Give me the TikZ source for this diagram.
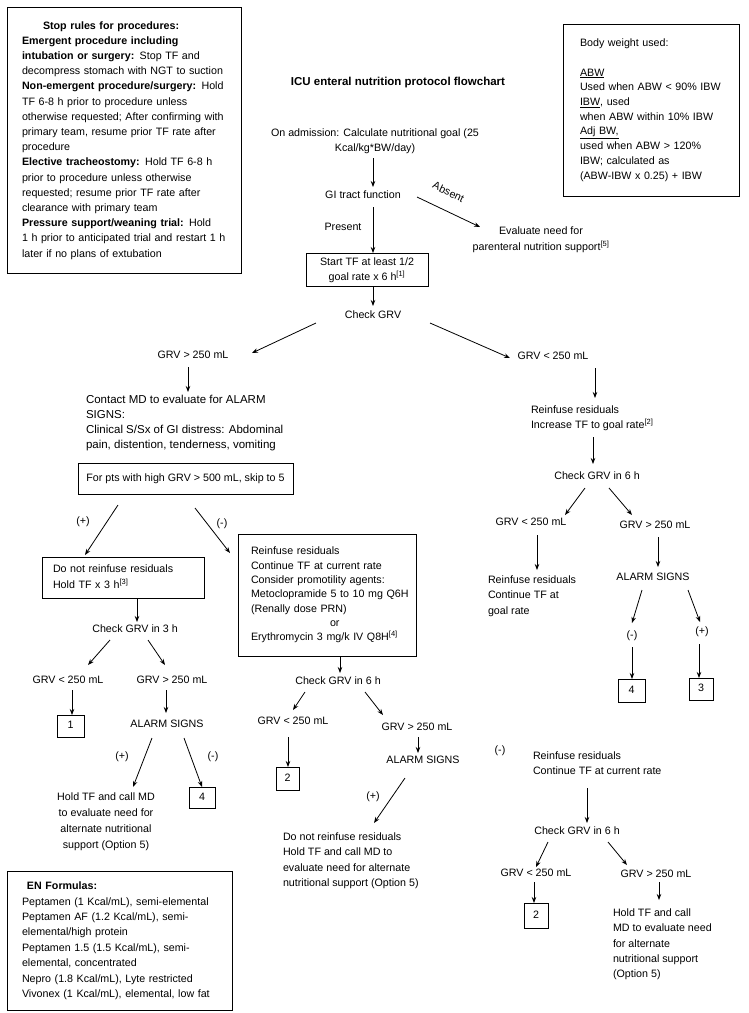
\documentclass[tikz,border=0pt]{standalone}
\usepackage{fontspec}
\setmainfont{Liberation Sans}
\usetikzlibrary{calc,arrows.meta}
\newcommand\fs{\fontsize{10.7pt}{15.2pt}\selectfont}
\newcommand\lblock[1]{\begin{tabular}{@{}l@{}}#1\end{tabular}}
\newcommand\cblock[1]{\begin{tabular}{@{}c@{}}#1\end{tabular}}
\begin{document}
\begin{tikzpicture}[x=1pt,y=-1pt,
  every node/.style={font=\fs, inner sep=0pt, outer sep=0pt},
  lbl/.style={text height=7.5pt, text depth=2.5pt},
  blk/.style={anchor=north west},
  cblk/.style={anchor=north},
  box/.style={draw, line width=0.8pt},
  arr/.style={line width=0.8pt, -{Stealth[length=6pt,width=4.5pt]}}]
\fill[white] (0,0) rectangle (748,1013);
\useasboundingbox (0,0) rectangle (748,1013);

% ---------- side boxes ----------
\node[box, minimum width=234pt, minimum height=266pt, text width=204pt] (stop) at (124,140) {\lblock{%
\hspace*{21pt}\textbf{Stop rules for procedures:}\\
\textbf{Emergent procedure including}\\
\textbf{intubation or surgery:} Stop TF and\\
decompress stomach with NGT to suction\\
\textbf{Non-emergent procedure/surgery:} Hold\\
TF 6-8 h prior to procedure unless\\
otherwise requested; After confirming with\\
primary team, resume prior TF rate after\\
procedure\\
\textbf{Elective tracheostomy:} Hold TF 6-8 h\\
prior to procedure unless otherwise\\
requested; resume prior TF rate after\\
clearance with primary team\\
\textbf{Pressure support/weaning trial:} Hold\\
1 h prior to anticipated trial and restart 1 h\\
later if no plans of extubation}};

\node[box, minimum width=176pt, minimum height=172pt, text width=142pt,
  font=\fontsize{10.7pt}{14.7pt}\selectfont] (bw) at (651,110) {\lblock{%
Body weight used:\\
\\
\underline{ABW}\\
Used when ABW < 90\% IBW\\
\underline{IBW}, used\\
when ABW within 10\% IBW\\
\underline{Adj BW,}\\
used when ABW > 120\%\\
IBW; calculated as\\
(ABW-IBW x 0.25) + IBW}};

\node[box, minimum width=225pt, minimum height=139pt, text width=195pt,
  font=\fontsize{10.7pt}{15.4pt}\selectfont] (en) at (119.5,940.5) {\lblock{%
\hspace*{5pt}\textbf{EN Formulas:}\\
Peptamen (1 Kcal/mL), semi-elemental\\
Peptamen AF (1.2 Kcal/mL), semi-\\
elemental/high protein\\
Peptamen 1.5 (1.5 Kcal/mL), semi-\\
elemental, concentrated\\
Nepro (1.8 Kcal/mL), Lyte restricted\\
Vivonex (1 Kcal/mL), elemental, low fat}};

% ---------- top ----------
\node[lbl, font=\fontsize{11.5pt}{15pt}\selectfont\bfseries] (title) at (398,83) {ICU enteral nutrition protocol flowchart};
\node[cblk] (adm) at (375,126) {\cblock{On admission: Calculate nutritional goal (25\\Kcal/kg*BW/day)}};
\node[lbl] (gi) at (363,196) {GI tract function};
\node[lbl] (present) at (343,228) {Present};
\node[lbl, rotate=-26] (absent) at (448,193) {Absent};
\node[cblk, font=\fontsize{10.7pt}{16pt}\selectfont] (evalp) at (541,223) {\cblock{Evaluate need for\\parenteral nutrition support\textsuperscript{[5]}}};
\node[box, minimum width=122pt, minimum height=33pt, font=\fontsize{10.7pt}{15pt}\selectfont] (start) at (367,269.5) {\cblock{Start TF at least 1/2\\goal rate x 6 h\textsuperscript{[1]}}};
\node[lbl] (cgrv) at (373,316) {Check GRV};
\node[lbl] (gt1) at (193,356) {GRV > 250 mL};
\node[lbl] (lt1) at (553,357) {GRV < 250 mL};

% ---------- left branch ----------
\node[blk, font=\fontsize{11.5pt}{15pt}\selectfont] (contact) at (86,393) {\lblock{Contact MD to evaluate for ALARM\\SIGNS:\\Clinical S/Sx of GI distress: Abdominal\\pain, distention, tenderness, vomiting}};
\node[box, minimum width=215pt, minimum height=31pt] (skip) at (185.5,478.5) {\cblock{For pts with high GRV > 500 mL, skip to 5}};
\node[lbl] (plus1) at (83,522) {(+)};
\node[lbl] (minus1) at (222,524) {(-)};
\node[box, minimum width=162pt, minimum height=41pt, text width=140pt] (hold3) at (123,577.5) {\lblock{Do not reinfuse residuals\\Hold TF x 3 h\textsuperscript{[3]}}};
\node[lbl] (cg3) at (135,630) {Check GRV in 3 h};
\node[lbl] (lt3) at (68,681) {GRV < 250 mL};
\node[lbl] (gt3) at (172,681) {GRV > 250 mL};
\node[box, lbl, minimum width=27pt, minimum height=22pt] (b1) at (70.5,726) {1};
\node[lbl] (al3) at (167,725) {ALARM SIGNS};
\node[lbl] (plus3) at (122,757) {(+)};
\node[lbl] (minus3) at (213,757) {(-)};
\node[box, lbl, minimum width=26pt, minimum height=21pt] (b4a) at (202,797.5) {4};
\node[cblk, font=\fontsize{10.7pt}{16pt}\selectfont] (hold3md) at (106,789) {\cblock{Hold TF and call MD\\ to evaluate need for\\alternate nutritional\\support (Option 5)}};

% ---------- middle branch ----------
\node[box, minimum width=178pt, minimum height=122pt, text width=152pt,
  font=\fontsize{10.7pt}{14.3pt}\selectfont] (mid) at (327,595) {\lblock{%
Reinfuse residuals\\
Continue TF at current rate\\
Consider promotility agents:\\
Metoclopramide 5 to 10 mg Q6H\\
(Renally dose PRN)\\
\hspace*{79pt}or\\
Erythromycin 3 mg/k IV Q8H\textsuperscript{[4]}}};
\node[lbl] (cg6m) at (338,682) {Check GRV in 6 h};
\node[lbl] (lt6m) at (293,722) {GRV < 250 mL};
\node[lbl] (gt6m) at (417,728) {GRV > 250 mL};
\node[box, lbl, minimum width=23pt, minimum height=23pt] (b2a) at (287.5,778.5) {2};
\node[lbl] (al6m) at (423,761) {ALARM SIGNS};
\node[lbl] (plus6m) at (373,797) {(+)};
\node[blk] (dnr) at (283,830) {\lblock{Do not reinfuse residuals\\Hold TF and call MD to\\evaluate need for alternate\\nutritional support (Option 5)}};

% ---------- right branch ----------
\node[blk] (reinf) at (531,403) {\lblock{Reinfuse residuals\\Increase TF to goal rate\textsuperscript{[2]}}};
\node[lbl] (cg6r) at (597,477) {Check GRV in 6 h};
\node[lbl] (lt6r) at (531,523) {GRV < 250 mL};
\node[lbl] (gt6r) at (655,526) {GRV > 250 mL};
\node[blk] (cont) at (488,573) {\lblock{Reinfuse residuals\\Continue TF at\\goal rate}};
\node[lbl] (al6r) at (653,578) {ALARM SIGNS};
\node[lbl] (mneg) at (632,636) {(-)};
\node[lbl] (mpos) at (702,632) {(+)};
\node[box, lbl, minimum width=27pt, minimum height=23pt] (b4b) at (631.5,690.5) {4};
\node[box, lbl, minimum width=24pt, minimum height=22pt] (b3) at (701,689) {3};
\node[lbl] (negr) at (500,751) {(-)};
\node[blk] (reinf2) at (533,749) {\lblock{Reinfuse residuals\\Continue TF at current rate}};
\node[lbl] (cg6b) at (577,832) {Check GRV in 6 h};
\node[lbl] (lt6b) at (536,874) {GRV < 250 mL};
\node[lbl] (gt6b) at (656,875) {GRV > 250 mL};
\node[box, lbl, minimum width=24pt, minimum height=25pt] (b2b) at (536,915.5) {2};
\node[blk] (holdb) at (613,906) {\lblock{Hold TF and call\\MD to evaluate need\\for alternate\\nutritional support\\(Option 5)}};

% ---------- connectors ----------
\draw[arr] ($(adm.north)+(-2,32)$) -- ($(gi.center)+(10,-9)$);
\draw[arr] ($(gi.center)+(54,1)$) -- ($(evalp.north)+(-61,4)$);
\draw[arr] ($(gi.center)+(10,11)$) -- ($(start.north)+(6,0)$);
\draw[arr] ($(start.south)+(6,0)$) -- ($(cgrv.center)+(0,-10)$);
\draw[arr] ($(cgrv.center)+(-57,7)$) -- ($(gt1.center)+(59,-3)$);
\draw[arr] ($(cgrv.center)+(57,7)$) -- ($(lt1.center)+(-43,1)$);
\draw[arr] ($(gt1.center)+(-5,11)$) -- ($(contact.north west)+(102,-1)$);
\draw[arr] ($(skip.south west)+(40,11)$) -- ($(hold3.north west)+(43,-2)$);
\draw[arr] ($(skip.south west)+(117,14)$) -- ($(mid.north west)+(-8,19)$);
\draw[arr] ($(hold3.south)+(14,0)$) -- ($(cg3.center)+(2,-8)$);
\draw[arr] ($(cg3.center)+(-25,10)$) -- ($(lt3.center)+(20,-16)$);
\draw[arr] ($(cg3.center)+(13,10)$) -- ($(gt3.center)+(-7,-16)$);
\draw[arr] ($(lt3.center)+(4,9)$) -- ($(b1.north)+(1.5,0)$);
\draw[arr] ($(gt3.center)+(-6,9)$) -- ($(al3.center)+(-1,-12)$);
\draw[arr] ($(al3.center)+(-15,13)$) -- ($(hold3md.north)+(27,-2)$);
\draw[arr] ($(al3.center)+(17,13)$) -- (b4a.north);
\draw[arr] ($(mid.south)+(13,0)$) -- ($(cg6m.center)+(2,-9)$);
\draw[arr] ($(cg6m.center)+(-33,10)$) -- ($(lt6m.center)+(0,-12)$);
\draw[arr] ($(cg6m.center)+(27,10)$) -- ($(gt6m.center)+(-34,-13)$);
\draw[arr] ($(lt6m.center)+(-5,15)$) -- ($(b2a.north)+(0.5,0)$);
\draw[arr] ($(gt6m.center)+(1,9)$) -- ($(al6m.center)+(-5,-8)$);
\draw[arr] ($(al6m.center)+(-18,17)$) -- ($(dnr.north west)+(91,-7)$);
\draw[arr] ($(lt1.center)+(42,11)$) -- ($(reinf.north west)+(64,-5)$);
\draw[arr] ($(reinf.north west)+(62,34)$) -- ($(cg6r.center)+(-4,-13)$);
\draw[arr] ($(cg6r.center)+(-12,11)$) -- ($(lt6r.center)+(34,-8)$);
\draw[arr] ($(cg6r.center)+(12,11)$) -- ($(gt6r.center)+(-23,-11)$);
\draw[arr] ($(lt6r.center)+(6,12)$) -- ($(cont.north west)+(49,-3)$);
\draw[arr] ($(gt6r.center)+(3,11)$) -- ($(al6r.center)+(5,-11)$);
\draw[arr] ($(al6r.center)+(-11,12)$) -- ($(mneg.center)+(0,-13)$);
\draw[arr] ($(mneg.center)+(0,11)$) -- ($(b4b.north)+(0.5,0)$);
\draw[arr] ($(al6r.center)+(35,12)$) -- ($(mpos.center)+(-2,-10)$);
\draw[arr] ($(mpos.center)+(-3,12)$) -- ($(b3.north)+(-2,0)$);
\draw[arr] ($(reinf2.north west)+(54,39)$) -- ($(cg6b.center)+(10,-9)$);
\draw[arr] ($(cg6b.center)+(-29,10)$) -- ($(lt6b.center)+(0,-7)$);
\draw[arr] ($(cg6b.center)+(31,10)$) -- ($(gt6b.center)+(-29,-10)$);
\draw[arr] ($(lt6b.center)+(-2,8)$) -- ($(b2b.north)+(-2,0)$);
\draw[arr] ($(gt6b.center)+(3,7)$) -- ($(holdb.north west)+(46,-6)$);
\end{tikzpicture}
\end{document}
